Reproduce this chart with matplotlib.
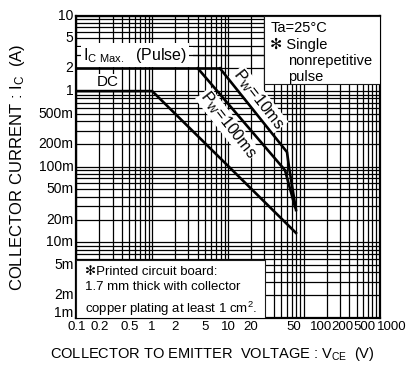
"""Safe operating area, collector current vs collector-emitter voltage."""
import matplotlib
matplotlib.use("Agg")
import matplotlib.pyplot as plt
import matplotlib.transforms as mtransforms
from matplotlib.ticker import LogLocator, NullLocator, NullFormatter
from matplotlib.patches import Rectangle

plt.rcParams['font.family'] = ['Liberation Sans', 'DejaVu Sans']
plt.rcParams['mathtext.default'] = 'regular'

fontsize = 10
line_width = 1.9

# boundary curves (V, A)
ic_pulse_v = [0.1, 7.84]
ic_pulse_i = [2.0, 2.0]

pw10_v = [7.84, 60.1, 63.9, 79.0]
pw10_i = [2.0, 0.156, 0.099, 0.0267]

pw100_v = [4.0, 56.5, 76.7]
pw100_i = [2.0, 0.090, 0.0293]

dc_v = [0.1, 1.0, 79.0]
dc_i = [1.0, 1.0, 0.0133]

x_ticks = [0.1, 0.2, 0.5, 1, 2, 5, 10, 20, 50, 100, 200, 500, 1000]
x_tick_labels = ["0.1", "0.2", "0.5", "1", "2", "5", "10", "20", "50", "100", "200", "500", "1000"]
# the upper labels sit a little right of their lines
x_label_shift = [0, 0, 0, 0, 0, 0, 0, 0, 13, 17, 16, 8, 12]
y_ticks = [10, 5, 2, 1, 0.5, 0.2, 0.1, 0.05, 0.02, 0.01, 0.005, 0.002, 0.001]
y_tick_labels = ["10", "5", "2", "1", "500m", "200m", "100m", "50m", "20m", "10m", "5m", "2m", "1m"]
y_label_shift = [0, 0, 0, 0, 0, 0, 0, 0, 0, 0, 0, 0, 5]

fig = plt.figure(figsize=(4.13, 3.65), dpi=100)
ax = fig.add_axes([0.185, 0.129, 0.734, 0.8285])
ax.set_xscale('log')
ax.set_yscale('log')
ax.set_xlim(0.1, 1000)
ax.set_ylim(0.001, 10)

ax.xaxis.set_major_locator(NullLocator())
ax.yaxis.set_major_locator(NullLocator())
ax.xaxis.set_minor_locator(LogLocator(base=10, subs=range(1, 10), numticks=50))
ax.yaxis.set_minor_locator(LogLocator(base=10, subs=range(1, 10), numticks=50))
ax.xaxis.set_minor_formatter(NullFormatter())
ax.yaxis.set_minor_formatter(NullFormatter())
ax.tick_params(which='both', length=0)
ax.grid(which='minor', color='k', lw=0.9, zorder=1)
ax.set_axisbelow(True)
for sp in ax.spines.values():
    sp.set_linewidth(1.6)

# tick labels drawn by hand so single ones can be nudged
xtrans = mtransforms.blended_transform_factory(ax.transData, ax.transAxes)
for v, lab, dx in zip(x_ticks, x_tick_labels, x_label_shift):
    off = mtransforms.ScaledTranslation(dx / 100, -3 / 100, fig.dpi_scale_trans)
    ax.text(v, 0, lab, transform=xtrans + off, ha='center', va='top', fontsize=9.5,
            clip_on=False)
ytrans = mtransforms.blended_transform_factory(ax.transAxes, ax.transData)
for v, lab, dy in zip(y_ticks, y_tick_labels, y_label_shift):
    off = mtransforms.ScaledTranslation(-3 / 100, dy / 100, fig.dpi_scale_trans)
    ax.text(0, v, lab, transform=ytrans + off, ha='right', va='center', fontsize=fontsize,
            clip_on=False)

# white band behind the pulse label, with the 3 A grid line over it
ax.add_patch(Rectangle((0.1, 2.08), 3.35, 1.75, facecolor='white', edgecolor='none', zorder=2))
ax.axhline(3, color='k', lw=0.9, zorder=2.5)
ax.text(0.59, 3.0, "I$_{C\\ Max.}$  (Pulse)", fontsize=11.5, ha='center', va='center', zorder=3,
        bbox=dict(facecolor='white', edgecolor='none', pad=1.5))

ax.plot(ic_pulse_v, ic_pulse_i, color='k', lw=line_width, zorder=4)
ax.plot(pw10_v, pw10_i, color='k', lw=line_width, zorder=4)
ax.plot(pw100_v, pw100_i, color='k', lw=line_width, zorder=4)
ax.plot(dc_v, dc_i, color='k', lw=line_width, zorder=4)

ax.text(0.26, 1.32, "DC", fontsize=11, ha='center', va='center', zorder=3,
        bbox=dict(facecolor='white', edgecolor='none', pad=0.5))

ax.text(25.2, 0.78, "P$_W$=10ms", fontsize=11.5, rotation=-52, ha='center', va='center',
        rotation_mode='anchor', zorder=3, bbox=dict(facecolor='white', edgecolor='none', pad=0.3))
ax.text(9.95, 0.357, "P$_W$=100ms", fontsize=11.5, rotation=-52, ha='center', va='center',
        rotation_mode='anchor', zorder=3, bbox=dict(facecolor='white', edgecolor='none', pad=0.3))

# condition box, top right
ax.add_patch(Rectangle((0.620, 0.773), 0.380, 0.227, transform=ax.transAxes,
                       facecolor='white', edgecolor='#1a1a1a', lw=0.8, zorder=3))
ax.text(0.640, 0.958, "Ta=25°C", transform=ax.transAxes, fontsize=10.5, va='center', zorder=5)
ax.text(0.640, 0.903, "✻ Single", transform=ax.transAxes, fontsize=10.5, va='center', zorder=5)
ax.text(0.698, 0.848, "nonrepetitive", transform=ax.transAxes, fontsize=10.5, va='center', zorder=5)
ax.text(0.698, 0.796, "pulse", transform=ax.transAxes, fontsize=10.5, va='center', zorder=5)

# board note, bottom left
ax.add_patch(Rectangle((0.0, 0.0), 0.623, 0.192, transform=ax.transAxes,
                       facecolor='white', edgecolor='#1a1a1a', lw=0.8, zorder=3))
ax.text(0.030, 0.153, "✻Printed circuit board:", transform=ax.transAxes, fontsize=9.5,
        va='center', zorder=5)
ax.text(0.030, 0.102, "1.7 mm thick with collector", transform=ax.transAxes, fontsize=9.5,
        va='center', zorder=5)
ax.text(0.030, 0.030, "copper plating at least 1 cm$^2$.", transform=ax.transAxes, fontsize=9.5,
        va='center', zorder=5)

fig.text(0.043, 0.543, "COLLECTOR CURRENT : I$_C$  (A)", rotation=90, ha='center', va='center',
         fontsize=12)
fig.text(0.513, 0.03, "COLLECTOR TO EMITTER  VOLTAGE : V$_{CE}$  (V)", ha='center', va='center',
         fontsize=10.5)

fig.savefig("out.png", dpi=100)
